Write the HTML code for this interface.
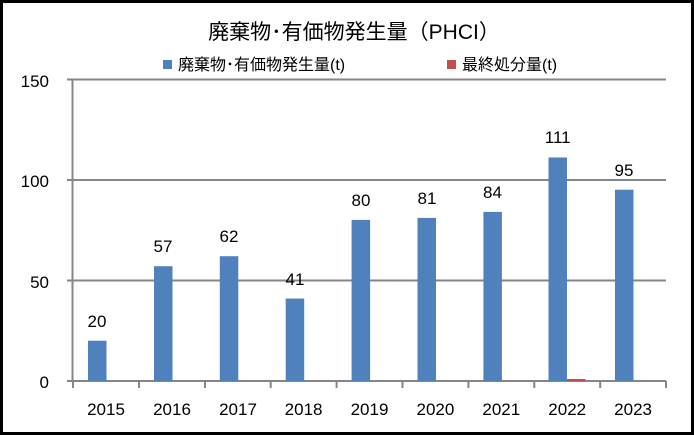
<!DOCTYPE html>
<html><head><meta charset="utf-8"><style>
html,body{margin:0;padding:0;background:#fff;}
svg{display:block;}
text{font-family:"Liberation Sans","Noto Sans CJK JP",sans-serif;fill:#000;}
</style></head><body>
<svg width="694" height="435" viewBox="0 0 694 435" xmlns="http://www.w3.org/2000/svg">
<rect x="1.5" y="1.5" width="691" height="432" fill="#fff" stroke="#000" stroke-width="3"/>
<text x="354" y="39" font-size="21" text-anchor="middle">廃棄物･有価物発生量（PHCI）</text>
<rect x="163" y="60" width="9" height="9" fill="#4f81bd"/>
<text x="178" y="70" font-size="16">廃棄物･有価物発生量(t)</text>
<rect x="447" y="60" width="9" height="9" fill="#c0504d"/>
<text x="462" y="70" font-size="16">最終処分量(t)</text>
<g stroke="#868686" stroke-width="2">
<line x1="67" y1="79.5" x2="666" y2="79.5"/>
<line x1="67" y1="180" x2="666" y2="180"/>
<line x1="67" y1="280.5" x2="666" y2="280.5"/>
<line x1="67" y1="381" x2="666" y2="381"/>
<line x1="72.5" y1="79" x2="72.5" y2="381"/>
</g>
<g stroke="#868686" stroke-width="2">
<line x1="73" y1="381" x2="73" y2="388"/><line x1="139" y1="381" x2="139" y2="388"/><line x1="205" y1="381" x2="205" y2="388"/><line x1="270.7" y1="381" x2="270.7" y2="388"/><line x1="336.6" y1="381" x2="336.6" y2="388"/><line x1="402.5" y1="381" x2="402.5" y2="388"/><line x1="468.4" y1="381" x2="468.4" y2="388"/><line x1="534.3" y1="381" x2="534.3" y2="388"/><line x1="600.2" y1="381" x2="600.2" y2="388"/><line x1="666" y1="381" x2="666" y2="388"/>
</g>
<g font-size="17" text-anchor="end">
<text x="49" y="87">150</text><text x="49" y="187">100</text><text x="49" y="288">50</text><text x="49" y="388">0</text>
</g>
<g fill="#4f81bd">
<rect x="88" y="340.7" width="18.5" height="40.3"/>
<rect x="154" y="266.2" width="18.5" height="114.8"/>
<rect x="219.8" y="256.2" width="18.5" height="124.8"/>
<rect x="285.7" y="298.5" width="18.5" height="82.5"/>
<rect x="351.6" y="219.9" width="18.5" height="161.1"/>
<rect x="417.5" y="217.9" width="18.5" height="163.1"/>
<rect x="483.4" y="211.9" width="18.5" height="169.1"/>
<rect x="548.5" y="157.5" width="18.5" height="223.5"/>
<rect x="615" y="189.7" width="18.5" height="191.3"/>
</g>
<rect x="567" y="379" width="18.5" height="2" fill="#c0504d"/>
<g font-size="17" text-anchor="middle">
<text x="97" y="327">20</text>
<text x="163" y="252">57</text>
<text x="229" y="242">62</text>
<text x="295" y="285">41</text>
<text x="361" y="206">80</text>
<text x="427" y="204">81</text>
<text x="492.5" y="198">84</text>
<text x="557.7" y="143">111</text>
<text x="624" y="176">95</text>
</g>
<g font-size="17" text-anchor="middle">
<text x="106" y="415">2015</text><text x="172" y="415">2016</text><text x="238" y="415">2017</text><text x="303.6" y="415">2018</text><text x="369.5" y="415">2019</text><text x="435.4" y="415">2020</text><text x="501.3" y="415">2021</text><text x="567.2" y="415">2022</text><text x="633.1" y="415">2023</text>
</g>
</svg>
</body></html>
